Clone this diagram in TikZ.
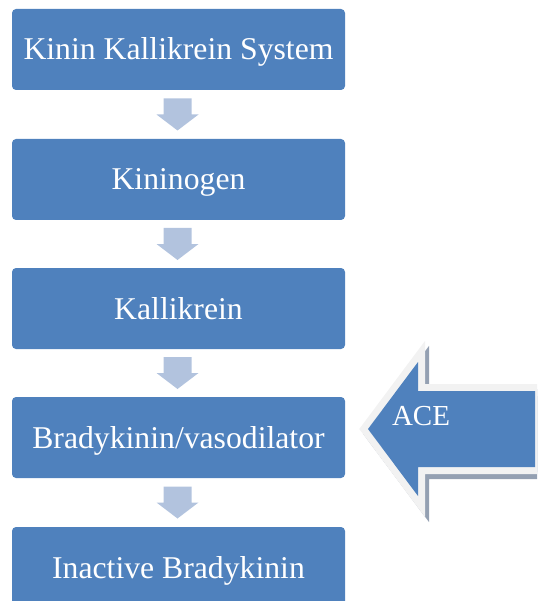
\documentclass[tikz,border=0pt]{standalone}
\usepackage{fontspec}
\setmainfont{Liberation Serif}
\usetikzlibrary{calc}
\definecolor{boxblue}{HTML}{4F81BD}
\definecolor{arrowlight}{RGB}{178,195,222}
\definecolor{rimgray}{HTML}{F2F2F2}
\definecolor{shadowgray}{RGB}{148,160,178}
\begin{document}
\begin{tikzpicture}[x=1pt,y=-1pt,
  stepbox/.style={fill=boxblue, draw=none, rounded corners=4pt, minimum width=333pt,
    minimum height=81pt, inner sep=0pt, text height=21pt, text depth=0pt,
    text=white, font=\fontsize{31.7}{38}\selectfont},
  downarr/.pic={\fill[arrowlight] (-14,-16) -- (14,-16) -- (14,0) -- (21,0) -- (0,16) -- (-21,0) -- (-14,0) -- cycle;}
]
\useasboundingbox (0,0) rectangle (537,601);
\clip (0,0) rectangle (537,601);
\node[stepbox] (b1) at (178.5,49.5) {Kinin Kallikrein System};
\node[stepbox] (b2) at (178.5,179.5) {Kininogen};
\node[stepbox] (b3) at (178.5,308.5) {Kallikrein};
\node[stepbox] (b4) at (178.5,437.5) {Bradykinin/vasodilator};
\node[stepbox] (b5) at (178.5,567.5) {Inactive Bradykinin};
\foreach \a/\b in {b1/b2,b2/b3,b3/b4,b4/b5}{
  \path ($(\a.south)!0.5!(\b.north)$) ++(-1,0) coordinate (m) pic {downarr};
}
% ACE block arrow
\def\aceshape{(368,429) -- (418,362) -- (418,391) -- (535,391) -- (535,467) -- (418,467) -- (418,496) -- cycle}
\begin{scope}[shift={(4,5)}]
  \filldraw[shadowgray, line width=14pt, miter limit=10, line join=miter] \aceshape;
\end{scope}
\filldraw[rimgray, line width=14pt, miter limit=10, line join=miter] \aceshape;
\fill[boxblue] \aceshape;
\node[anchor=base, text=white, inner sep=0pt, font=\fontsize{29}{34}\selectfont] (ace) at (421,425) {ACE};
\end{tikzpicture}
\end{document}
